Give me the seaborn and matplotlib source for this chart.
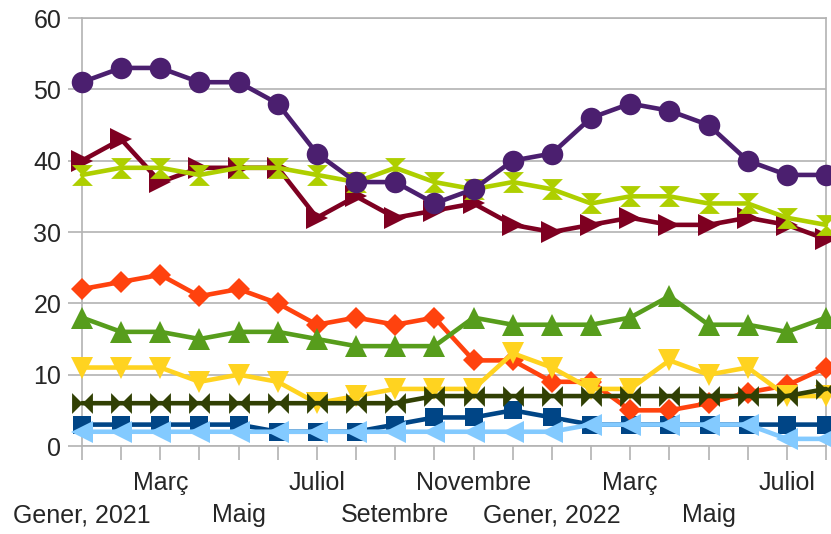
import numpy as np
import pandas as pd
import seaborn as sns
import matplotlib.pyplot as plt
from matplotlib.transforms import ScaledTranslation

months = ['Gener, 2021', 'Febrer', 'Març', 'Abril', 'Maig', 'Juny', 'Juliol', 'Agost',
          'Setembre', 'Octubre', 'Novembre', 'Desembre', 'Gener, 2022', 'Febrer', 'Març',
          'Abril', 'Maig', 'Juny', 'Juliol', 'Agost']

s_blue = [3, 3, 3, 3, 3, 2, 2, 2, 3, 4, 4, 5, 4, 3, 3, 3, 3, 3, 3, 3]
s_orange = [22, 23, 24, 21, 22, 20, 17, 18, 17, 18, 12, 12, 9, 9, 5, 5, 6, 7.5, 8.5, 11]
s_yellow = [11, 11, 11, 9, 10, 9, 6, 7, 8, 8, 8, 13, 11, 8, 8, 12, 10, 11, 7, 7]
s_green = [18, 16, 16, 15, 16, 16, 15, 14, 14, 14, 18, 17, 17, 17, 18, 21, 17, 17, 16, 18]
s_darkred = [40, 43, 37, 39, 39, 39, 32, 35, 32, 33, 34, 31, 30, 31, 32, 31, 31, 32, 31, 29]
s_lightblue = [2, 2, 2, 2, 2, 2, 2, 2, 2, 2, 2, 2, 2, 3, 3, 3, 3, 3, 1, 1]
s_olive = [6, 6, 6, 6, 6, 6, 6, 6, 6, 7, 7, 7, 7, 7, 7, 7, 7, 7, 7, 8]
s_lime = [38, 39, 39, 38, 39, 39, 38, 37, 39, 37, 36, 37, 36, 34, 35, 35, 34, 34, 32, 31]
s_purple = [51, 53, 53, 51, 51, 48, 41, 37, 37, 34, 36, 40, 41, 46, 48, 47, 45, 40, 38, 38]

# marcadors tipus LibreOffice
bowtie = [(-1, -1), (-1, 1), (1, -1), (1, 1), (-1, -1)]
hourglass = [(-1, 1), (1, 1), (-1, -1), (1, -1), (-1, 1)]

series = [
    (s_blue, '#004586', 's', 13.5),
    (s_orange, '#ff420e', 'D', 11.5),
    (s_yellow, '#ffd320', 'v', 15.5),
    (s_green, '#579d1c', '^', 15.5),
    (s_darkred, '#7e0021', '>', 15.5),
    (s_lightblue, '#83caff', '<', 15.5),
    (s_olive, '#314004', bowtie, 15),
    (s_lime, '#aecf00', hourglass, 15),
    (s_purple, '#4b1f6f', 'o', 15.5),
]

sns.set_style('white')
plt.rcParams['font.family'] = ['Liberation Sans', 'DejaVu Sans']

fig = plt.figure(figsize=(8.31, 5.34), dpi=100)
ax = fig.add_axes([82 / 831, 1 - 446 / 534, 744 / 831, 428 / 534])

x = np.arange(len(months))
for vals, col, mk, ms in series:
    sns.lineplot(x=x, y=vals, ax=ax, color=col, marker=mk, markersize=ms,
                 markeredgewidth=0, linewidth=3.3, clip_on=False, zorder=3)

ax.set_xlim(0, len(months) - 1)
ax.set_ylim(0, 60)
ax.set_yticks(range(0, 61, 10))
ax.yaxis.grid(True, color='#b3b3b3', linewidth=1.2)
ax.set_axisbelow(True)

labels = [m if i % 2 == 0 else '' for i, m in enumerate(months)]
ax.set_xticks(x)
ax.set_xticklabels(labels)

ax.tick_params(axis='x', length=10, width=1.2, color='#b3b3b3', pad=8, labelsize=18)
ax.tick_params(axis='y', length=10, width=1.2, color='#b3b3b3', pad=5, labelsize=18)
ax.tick_params(bottom=True, left=True)

# les etiquetes alternes van a la segona fila
shift = ScaledTranslation(0, -0.32, fig.dpi_scale_trans)
for i, lab in enumerate(ax.get_xticklabels()):
    if i % 4 == 0:
        lab.set_transform(lab.get_transform() + shift)

for sp in ax.spines.values():
    sp.set_color('#b3b3b3')
    sp.set_linewidth(1.2)
ax.set_xlabel('')
ax.set_ylabel('')

fig.savefig('out.png', dpi=100)
